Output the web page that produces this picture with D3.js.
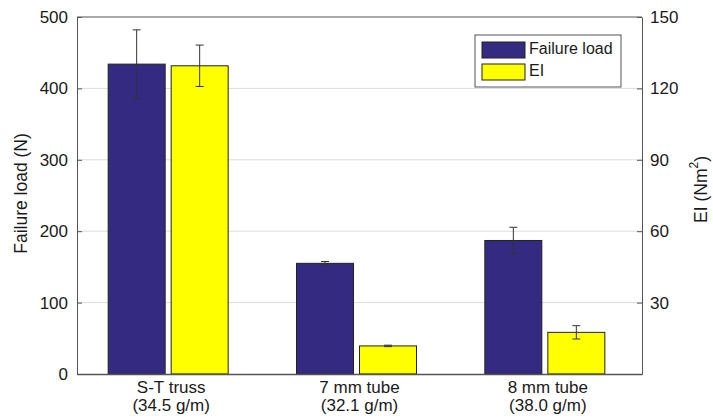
<!DOCTYPE html>
<html>
<head>
<meta charset="utf-8">
<script src="https://cdn.jsdelivr.net/npm/d3@7"></script>
<style>
  body { margin: 0; background: #fff; }
  text { font-family: "Liberation Sans", Arial, sans-serif; fill: #1a1a1a; }
</style>
</head>
<body>
<div id="chart-area"></div>
<script>
const names = ["S-T truss", "7 mm tube", "8 mm tube"]
const masses = ["(34.5 g/m)", "(32.1 g/m)", "(38.0 g/m)"]
const failureLoad = [434, 155, 187]
const failureErr = [48, 2.5, 18.5]
const eiValues = [129.5, 11.8, 17.5]
const eiErr = [8.7, 0.3, 2.8]
const leftTicks = [0, 100, 200, 300, 400, 500]
const rightTicks = [30, 60, 90, 120, 150]
const seriesNames = ["Failure load", "EI"]

const SVG_WIDTH = 713
const SVG_HEIGHT = 420
const MARGIN = { left: 77, right: 71, top: 17, bottom: 46 }
const G_WIDTH = SVG_WIDTH - MARGIN.left - MARGIN.right
const G_HEIGHT = SVG_HEIGHT - MARGIN.top - MARGIN.bottom

const BLUE = "#352a82"
const YELLOW = "#ffff00"
const FONT = "17px"

const svg = d3.select("#chart-area").append("svg")
  .attr("width", SVG_WIDTH)
  .attr("height", SVG_HEIGHT)

const g = svg.append("g")
  .attr("transform", `translate(${MARGIN.left}, ${MARGIN.top})`)

const x = d3.scaleBand()
  .domain(names)
  .range([0, G_WIDTH])
  .padding(0)

const bw = x.bandwidth()
const x1 = d3.scaleBand()
  .domain(seriesNames)
  .range([bw / 2 - 63, bw / 2 + 57])
  .paddingInner(6 / 63)

const yLeft = d3.scaleLinear().domain([0, 500]).range([G_HEIGHT, 0])
const yRight = d3.scaleLinear().domain([0, 150]).range([G_HEIGHT, 0])

// grid lines
g.append("g").selectAll("line")
  .data(leftTicks.filter(d => d > 0 && d < 500))
  .enter().append("line")
  .attr("x1", 0).attr("x2", G_WIDTH)
  .attr("y1", d => yLeft(d)).attr("y2", d => yLeft(d))
  .attr("stroke", "#dcdcdc")
  .attr("stroke-width", 1)

// bars
const rows = names.map((n, i) => ({
  name: n,
  values: [
    { key: "Failure load", v: yLeft(failureLoad[i]), lo: yLeft(failureLoad[i] - failureErr[i]), hi: yLeft(failureLoad[i] + failureErr[i]), color: BLUE },
    { key: "EI", v: yRight(eiValues[i]), lo: yRight(eiValues[i] - eiErr[i]), hi: yRight(eiValues[i] + eiErr[i]), color: YELLOW }
  ]
}))

const groups = g.selectAll(".group").data(rows).enter().append("g")
  .attr("class", "group")
  .attr("transform", d => `translate(${x(d.name)}, 0)`)

groups.selectAll("rect").data(d => d.values).enter().append("rect")
  .attr("x", d => x1(d.key))
  .attr("width", x1.bandwidth())
  .attr("y", d => d.v)
  .attr("height", d => G_HEIGHT - d.v)
  .attr("fill", d => d.color)
  .attr("stroke", "#222")
  .attr("stroke-width", 1)

// error bars
const err = groups.selectAll(".err").data(d => d.values).enter().append("g")
  .attr("class", "err")
  .attr("stroke", "#333")
  .attr("stroke-width", 1)
err.append("line")
  .attr("x1", d => x1(d.key) + x1.bandwidth() / 2)
  .attr("x2", d => x1(d.key) + x1.bandwidth() / 2)
  .attr("y1", d => d.lo).attr("y2", d => d.hi)
err.selectAll(".cap").data(d => [d.lo, d.hi].map(y => ({ y, cx: x1(d.key) + x1.bandwidth() / 2 })))
  .enter().append("line")
  .attr("x1", d => d.cx - 4).attr("x2", d => d.cx + 4)
  .attr("y1", d => d.y).attr("y2", d => d.y)

// frame
g.append("line").attr("x1", 0).attr("x2", G_WIDTH).attr("y1", 0).attr("y2", 0)
  .attr("stroke", "#555")

// left axis
const leftAxis = g.append("g")
  .call(d3.axisLeft(yLeft).tickValues(leftTicks).tickSizeInner(-5).tickSizeOuter(0).tickPadding(9))
leftAxis.select(".domain").attr("stroke", "#555")
leftAxis.selectAll(".tick line").attr("stroke", "#555")
leftAxis.selectAll("text").attr("font-size", FONT).attr("fill", "#1a1a1a")
  .attr("font-family", "Liberation Sans, Arial, sans-serif")

// right axis
const rightAxis = g.append("g")
  .attr("transform", `translate(${G_WIDTH}, 0)`)
  .call(d3.axisRight(yRight).tickValues(rightTicks).tickSizeInner(-5).tickSizeOuter(0).tickPadding(8))
rightAxis.select(".domain").attr("stroke", "#555")
rightAxis.selectAll(".tick line").attr("stroke", "#555")
rightAxis.selectAll("text").attr("font-size", FONT).attr("fill", "#1a1a1a")
  .attr("font-family", "Liberation Sans, Arial, sans-serif")

// bottom axis
const bottomAxis = g.append("g")
  .attr("transform", `translate(0, ${G_HEIGHT})`)
  .call(d3.axisBottom(x).tickSize(0).tickPadding(0))
bottomAxis.select(".domain").attr("stroke", "#555").attr("stroke-width", 1.5)
bottomAxis.selectAll(".tick text").remove()
bottomAxis.selectAll(".tick").each(function (d, i) {
  const t = d3.select(this).append("text")
    .attr("text-anchor", "middle")
    .attr("font-size", FONT)
    .attr("fill", "#1a1a1a")
  t.append("tspan").attr("x", 0).attr("y", 19).text(names[i])
  t.append("tspan").attr("x", 0).attr("y", 37).text(masses[i])
})

// axis titles
g.append("text")
  .attr("transform", `translate(${22 - MARGIN.left}, ${G_HEIGHT / 2 - 2}) rotate(-90)`)
  .attr("text-anchor", "middle")
  .attr("dominant-baseline", "middle")
  .attr("font-size", "17.5px")
  .text("Failure load (N)")

const rTitle = g.append("text")
  .attr("transform", `translate(${G_WIDTH + 60}, ${G_HEIGHT / 2 - 6}) rotate(-90)`)
  .attr("text-anchor", "middle")
  .attr("dominant-baseline", "middle")
  .attr("font-size", "17.5px")
rTitle.append("tspan").text("EI (Nm")
rTitle.append("tspan").attr("font-size", "12px").attr("dy", -7).text("2")
rTitle.append("tspan").attr("dy", 7).text(")")

// legend
const legend = g.append("g")
  .attr("transform", `translate(${475 - MARGIN.left}, ${35 - MARGIN.top})`)
legend.append("rect")
  .attr("width", 146).attr("height", 52)
  .attr("fill", "#fff").attr("stroke", "#555")
const colors = [BLUE, YELLOW]
seriesNames.forEach((s, i) => {
  legend.append("rect")
    .attr("x", 7).attr("y", 7 + i * 22)
    .attr("width", 43).attr("height", 16)
    .attr("fill", colors[i]).attr("stroke", "#222")
  legend.append("text")
    .attr("x", 54).attr("y", 15 + i * 22)
    .attr("dominant-baseline", "middle")
    .attr("font-size", "16px")
    .text(s)
})
</script>
</body>
</html>
